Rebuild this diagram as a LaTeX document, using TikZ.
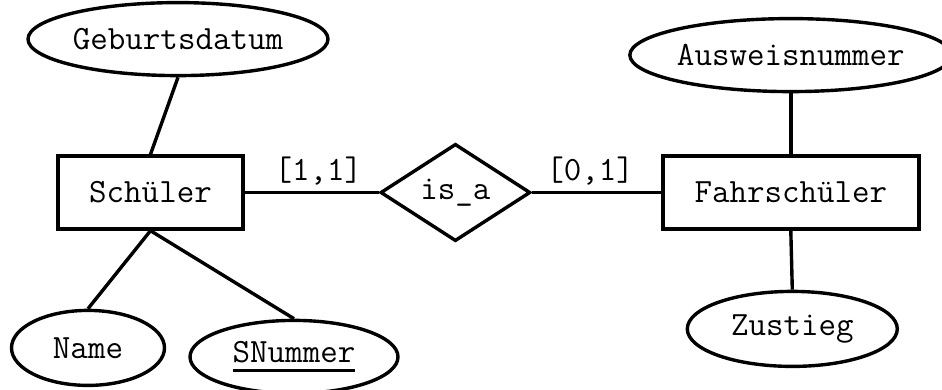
\documentclass[tikz,border=0pt]{standalone}
\usepackage{fontspec}
\usetikzlibrary{positioning,shapes.geometric}
\newcommand{\keyattr}[1]{\setbox0\hbox{#1}\rlap{\rule[-4.5pt]{\wd0}{1.4pt}}\box0}

\begin{document}
\begin{tikzpicture}[
  x=0.5pt, y=-0.5pt,
  line width=1.7pt,
  font=\ttfamily\fontsize{17pt}{19pt}\selectfont,
  ent/.style={draw, rectangle, minimum height=36.5pt, inner sep=0pt},
  attr/.style={draw, ellipse, minimum height=36.5pt, inner sep=0pt},
  rel/.style={draw, diamond, minimum width=75pt, minimum height=47pt, inner sep=0pt},
  card/.style={above, inner sep=3pt}]
\useasboundingbox (0,0) rectangle (942,390);
% entities and relationship
\node[ent, minimum width=92.5pt] (schueler) at (150.5,192.5) {Schüler};
\node[rel, right=67pt of schueler] (isa) {is\_a};
\node[ent, minimum width=128pt, right=64.5pt of isa] (fahr) {Fahrschüler};
% attributes
\node[attr, minimum width=150pt, above=38.5pt of schueler, xshift=13.75pt] (geb) {Geburtsdatum};
\node[attr, minimum width=76.5pt, minimum height=37.5pt, below=39pt of schueler, xshift=-31.25pt] (name) {Name};
\node[attr, minimum width=104pt, below=44pt of schueler, xshift=71.75pt] (snr) {\keyattr{SNummer}};
\node[attr, minimum width=155pt, above=30.5pt of fahr] (ausw) {Ausweisnummer};
\node[attr, minimum width=105pt, minimum height=37.5pt, below=29.5pt of fahr, xshift=0.75pt] (zust) {Zustieg};
% connectors
\draw (schueler.east) -- node[card, pos=0.55] (c1) {[1,1]} (isa.west);
\draw (isa.east) -- node[card, pos=0.45] (c2) {[0,1]} (fahr.west);
\draw (geb.south) -- (schueler.north);
\draw (schueler.south) -- (name.north);
\draw (schueler.south) -- (snr.north);
\draw (ausw.south) -- (fahr.north);
\draw (fahr.south) -- (zust.north);
\end{tikzpicture}
\end{document}
